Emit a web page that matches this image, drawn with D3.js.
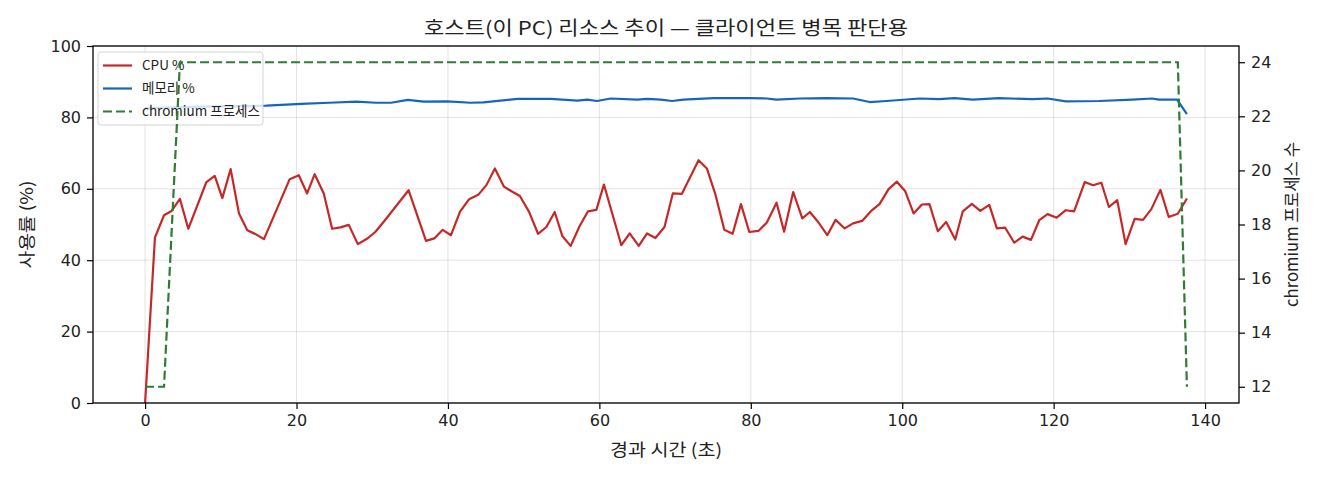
<!DOCTYPE html>
<html>
<head>
<meta charset="utf-8">
<script src="https://cdn.jsdelivr.net/npm/d3@7"></script>
<style>
  body { margin: 0; background: #fff; }
  svg text { font-family: "Noto Sans CJK KR", "DejaVu Sans", sans-serif; fill: #222; }
</style>
</head>
<body>
<svg width="1320" height="480"></svg>
<script>
// CPU % (seconds, value)
var cpuTime = [0, 1.3, 2.5, 3.5, 4.6, 5.7, 8.1, 9.2, 10.2, 11.3, 12.4, 13.5, 14.6, 15.7, 19.1, 20.3, 21.4, 22.4, 23.6, 24.7,
  25.8, 26.9, 28.1, 29.3, 30.4, 31.6, 34.8, 37.1, 38.2, 39.3, 40.4, 41.6, 42.8, 44.0, 45.1, 46.2, 47.4, 48.4, 49.5, 50.7,
  51.9, 53.0, 54.1, 55.1, 56.2, 57.4, 58.5, 59.6, 60.6, 62.9, 64.0, 65.2, 66.3, 67.4, 68.6, 69.7, 70.9, 72.0, 73.1, 74.2,
  75.3, 76.5, 77.6, 78.7, 79.8, 81.0, 82.1, 83.4, 84.4, 85.6, 86.8, 87.8, 88.9, 90.1, 91.2, 92.4, 93.5, 94.7, 95.9, 97.0,
  98.2, 99.3, 100.4, 101.5, 102.6, 103.6, 104.7, 105.8, 107.0, 108.0, 109.2, 110.3, 111.5, 112.5, 113.6, 114.8, 115.9, 117.0, 118.1, 119.2,
  120.4, 121.6, 122.7, 124.1, 125.2, 126.3, 127.3, 128.4, 129.5, 130.7, 131.8, 132.9, 134.1, 135.2, 136.4, 137.6];
var cpuValues = [0, 46.3, 52.6, 53.8, 57.2, 48.8, 61.9, 63.6, 57.4, 65.5, 53.1, 48.4, 47.3, 45.9, 62.7, 63.8, 58.7, 64.1, 58.7, 48.8,
  49.2, 49.9, 44.5, 46.0, 47.9, 51.0, 59.6, 45.4, 46.1, 48.5, 47.0, 53.6, 57.1, 58.3, 61.1, 65.7, 60.6, 59.3, 58.0, 53.6,
  47.4, 49.3, 53.5, 46.8, 44.0, 49.6, 53.7, 54.1, 61.2, 44.2, 47.5, 44.0, 47.5, 46.2, 49.3, 58.7, 58.6, 63.3, 68.0, 65.7,
  58.6, 48.5, 47.4, 55.7, 47.9, 48.2, 50.5, 56.1, 48.0, 59.1, 51.7, 53.5, 50.7, 47.0, 51.3, 48.9, 50.3, 51.0, 53.8, 55.7,
  59.9, 62.0, 59.3, 53.1, 55.6, 55.7, 48.1, 50.7, 45.8, 53.7, 55.8, 53.8, 55.5, 48.9, 49.1, 44.9, 46.6, 45.7, 51.2, 52.9,
  51.9, 54.0, 53.7, 61.9, 61.0, 61.7, 54.9, 56.8, 44.5, 51.6, 51.3, 54.3, 59.7, 52.1, 53.0, 57.3];

// 메모리 %
var memTime = [0, 7.4, 16.0, 20.6, 24.3, 27.9, 30.5, 32.5, 34.7, 36.8, 39.9, 43.0, 44.7, 49.2, 53.6, 57.1, 58.4, 59.7, 61.5, 65.0,
  66.3, 68.1, 69.6, 71.1, 75.1, 79.9, 82.1, 83.4, 86.5, 90.0, 93.5, 95.7, 97.9, 102.3, 104.9, 106.9, 109.3, 112.8, 117.2, 119.2,
  121.6, 126.0, 130.4, 133.0, 133.9, 136.3, 137.6];
var memValues = [82.6, 83.0, 83.3, 83.8, 84.1, 84.4, 84.1, 84.1, 84.9, 84.4, 84.5, 84.1, 84.2, 85.2, 85.2, 84.7, 85.0, 84.6, 85.3, 85.0,
  85.2, 85.0, 84.6, 85.0, 85.4, 85.4, 85.3, 85.0, 85.3, 85.4, 85.3, 84.3, 84.6, 85.3, 85.1, 85.4, 85.0, 85.4, 85.1, 85.3,
  84.5, 84.6, 85.0, 85.3, 85.0, 85.0, 80.9];

// chromium 프로세스 수
var procTime = [0, 2.5, 4.6, 136.4, 137.6];
var procValues = [12, 12, 24, 24, 12];

var xTicks = [0, 20, 40, 60, 80, 100, 120, 140];
var yTicks = [0, 20, 40, 60, 80, 100];
var y2Ticks = [12, 14, 16, 18, 20, 22, 24];

var margin = {top: 46, right: 81, bottom: 77, left: 93};
var svg = d3.select("svg");
var width = 1320 - margin.left - margin.right;
var height = 480 - margin.top - margin.bottom;

var tExtent = d3.extent(cpuTime.concat(memTime, procTime));
var tPad = (tExtent[1] - tExtent[0]) * 0.05;
var x = d3.scaleLinear().domain([tExtent[0] - tPad, tExtent[1] + tPad]).range([0, width]);
var y = d3.scaleLinear().domain([0, 100]).range([height, 0]);
var pExtent = d3.extent(procValues);
var pPad = (pExtent[1] - pExtent[0]) * 0.05;
var y2 = d3.scaleLinear().domain([pExtent[0] - pPad, pExtent[1] + pPad]).range([height, 0]);

var g = svg.append("g").attr("transform", "translate(" + margin.left + "," + margin.top + ")");

// grid
g.append("g").selectAll("line").data(xTicks).enter().append("line")
  .attr("x1", d => x(d)).attr("x2", d => x(d)).attr("y1", 0).attr("y2", height)
  .attr("stroke", "#b0b0b0").attr("stroke-opacity", 0.35).attr("stroke-width", 1);
g.append("g").selectAll("line").data(yTicks).enter().append("line")
  .attr("x1", 0).attr("x2", width).attr("y1", d => y(d)).attr("y2", d => y(d))
  .attr("stroke", "#b0b0b0").attr("stroke-opacity", 0.35).attr("stroke-width", 1);

var cpuData = cpuTime.map((t, i) => [t, cpuValues[i]]);
var memData = memTime.map((t, i) => [t, memValues[i]]);
var procData = procTime.map((t, i) => [t, procValues[i]]);

var line1 = d3.line().x(d => x(d[0])).y(d => y(d[1]));
var line2 = d3.line().x(d => x(d[0])).y(d => y2(d[1]));

g.append("path").datum(cpuData).attr("d", line1)
  .attr("fill", "none").attr("stroke", "#c62828").attr("stroke-width", 2.2).attr("stroke-linejoin", "round");
g.append("path").datum(memData).attr("d", line1)
  .attr("fill", "none").attr("stroke", "#1565c0").attr("stroke-width", 2.2).attr("stroke-linejoin", "round");

// legend (under the twin axis line)
var legendItems = [
  {label: "CPU %", color: "#c62828", dash: null},
  {label: "메모리 %", color: "#1565c0", dash: null},
  {label: "chromium 프로세스", color: "#2e7d32", dash: "9,4"}
];
var legend = g.append("g").attr("transform", "translate(5,6)");
legend.append("rect")
  .attr("width", 165).attr("height", 73).attr("rx", 3)
  .attr("fill", "#fff").attr("fill-opacity", 0.8)
  .attr("stroke", "#d4d4d4").attr("stroke-width", 1);
var li = legend.selectAll(".item").data(legendItems).enter().append("g")
  .attr("transform", (d, i) => "translate(0," + (13.5 + i * 23) + ")");
li.append("line").attr("x1", 5).attr("x2", 34)
  .attr("stroke", d => d.color).attr("stroke-width", 2.2)
  .attr("stroke-dasharray", d => d.dash);
li.append("text").attr("x", 44).attr("dy", "0.35em")
  .style("font-size", "13.5px").text(d => d.label);

g.append("path").datum(procData).attr("d", line2)
  .attr("fill", "none").attr("stroke", "#2e7d32").attr("stroke-width", 2.2)
  .attr("stroke-dasharray", "9,4");

// axes
var xAxis = g.append("g").attr("transform", "translate(0," + height + ")")
  .call(d3.axisBottom(x).tickValues(xTicks).tickSize(6).tickPadding(6).tickSizeOuter(0));
var yAxis = g.append("g")
  .call(d3.axisLeft(y).tickValues(yTicks).tickSize(6).tickPadding(6).tickSizeOuter(0));
var y2Axis = g.append("g").attr("transform", "translate(" + width + ",0)")
  .call(d3.axisRight(y2).tickValues(y2Ticks).tickSize(6).tickPadding(6).tickSizeOuter(0));
[xAxis, yAxis, y2Axis].forEach(function(a) {
  a.select(".domain").remove();
  a.selectAll("line").attr("stroke", "#000").attr("stroke-width", 1.2);
  a.selectAll("text").style("font-size", "16px").style("font-family", "'DejaVu Sans', sans-serif").attr("fill", "#222");
});

g.append("rect").attr("width", width).attr("height", height)
  .attr("fill", "none").attr("stroke", "#000").attr("stroke-width", 1.3);

// labels
svg.append("text").attr("x", margin.left + width / 2).attr("y", 35)
  .attr("text-anchor", "middle").style("font-size", "19px")
  .attr("textLength", 484).attr("lengthAdjust", "spacingAndGlyphs")
  .text("호스트(이 PC) 리소스 추이 — 클라이언트 병목 판단용");
svg.append("text").attr("x", margin.left + width / 2).attr("y", 456)
  .attr("text-anchor", "middle").style("font-size", "17px")
  .attr("textLength", 112).attr("lengthAdjust", "spacingAndGlyphs")
  .text("경과 시간 (초)");
svg.append("text").attr("transform", "translate(33," + (margin.top + height / 2) + ") rotate(-90)")
  .attr("text-anchor", "middle").style("font-size", "17px")
  .attr("textLength", 88).attr("lengthAdjust", "spacingAndGlyphs")
  .text("사용률 (%)");
svg.append("text").attr("transform", "translate(1298," + (margin.top + height / 2) + ") rotate(-90)")
  .attr("text-anchor", "middle").style("font-size", "17px")
  .attr("textLength", 165).attr("lengthAdjust", "spacingAndGlyphs")
  .text("chromium 프로세스 수");
</script>
</body>
</html>
